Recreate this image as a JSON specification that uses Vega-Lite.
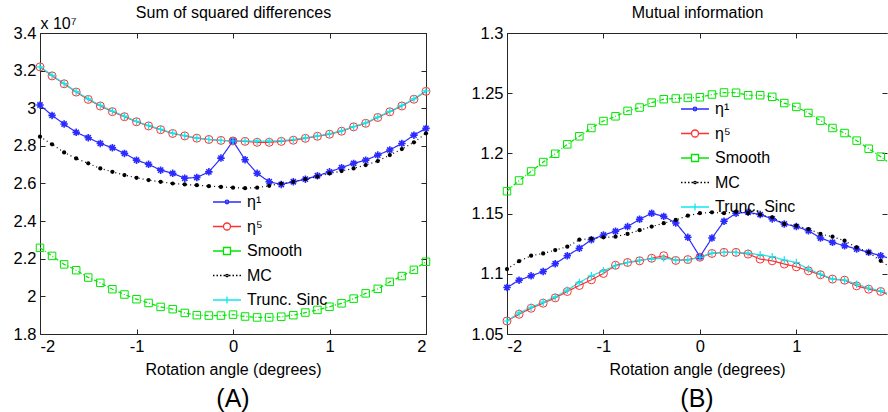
{
"$schema": "https://vega.github.io/schema/vega-lite/v6.json",
"background": "white",
"padding": {"left": 13, "top": 4, "right": 0, "bottom": 0},
"bounds": "flush",
"spacing": 81,
"datasets": {"d": [
{"a":-2,"s":"η¹","ssd":3.017,"mi":1.0886},{"a":-1.875,"s":"η¹","ssd":2.962,"mi":1.0947},{"a":-1.75,"s":"η¹","ssd":2.916,"mi":1.0983},{"a":-1.625,"s":"η¹","ssd":2.872,"mi":1.1019},{"a":-1.5,"s":"η¹","ssd":2.843,"mi":1.1083},{"a":-1.375,"s":"η¹","ssd":2.813,"mi":1.115},{"a":-1.25,"s":"η¹","ssd":2.790,"mi":1.1212},{"a":-1.125,"s":"η¹","ssd":2.760,"mi":1.1283},{"a":-1,"s":"η¹","ssd":2.724,"mi":1.1322},{"a":-0.875,"s":"η¹","ssd":2.702,"mi":1.1353},{"a":-0.75,"s":"η¹","ssd":2.671,"mi":1.1392},{"a":-0.625,"s":"η¹","ssd":2.654,"mi":1.1453},{"a":-0.5,"s":"η¹","ssd":2.628,"mi":1.1503},{"a":-0.375,"s":"η¹","ssd":2.632,"mi":1.1477},{"a":-0.25,"s":"η¹","ssd":2.662,"mi":1.1422},{"a":-0.125,"s":"η¹","ssd":2.735,"mi":1.1303},{"a":0,"s":"η¹","ssd":2.826,"mi":1.1142},{"a":0.125,"s":"η¹","ssd":2.726,"mi":1.1297},{"a":0.25,"s":"η¹","ssd":2.654,"mi":1.1436},{"a":0.375,"s":"η¹","ssd":2.609,"mi":1.1503},{"a":0.5,"s":"η¹","ssd":2.595,"mi":1.1511},{"a":0.625,"s":"η¹","ssd":2.609,"mi":1.1492},{"a":0.75,"s":"η¹","ssd":2.623,"mi":1.1456},{"a":0.875,"s":"η¹","ssd":2.641,"mi":1.1414},{"a":1,"s":"η¹","ssd":2.662,"mi":1.1392},{"a":1.125,"s":"η¹","ssd":2.684,"mi":1.1358},{"a":1.25,"s":"η¹","ssd":2.707,"mi":1.1297},{"a":1.375,"s":"η¹","ssd":2.724,"mi":1.1261},{"a":1.5,"s":"η¹","ssd":2.751,"mi":1.1233},{"a":1.625,"s":"η¹","ssd":2.778,"mi":1.1206},{"a":1.75,"s":"η¹","ssd":2.813,"mi":1.1178},{"a":1.875,"s":"η¹","ssd":2.857,"mi":1.115},{"a":2,"s":"η¹","ssd":2.893,"mi":1.112},
{"a":-2,"s":"η⁵","ssd":3.220,"mi":1.0608},{"a":-1.875,"s":"η⁵","ssd":3.172,"mi":1.0664},{"a":-1.75,"s":"η⁵","ssd":3.130,"mi":1.0714},{"a":-1.625,"s":"η⁵","ssd":3.086,"mi":1.0756},{"a":-1.5,"s":"η⁵","ssd":3.047,"mi":1.0800},{"a":-1.375,"s":"η⁵","ssd":3.012,"mi":1.0853},{"a":-1.25,"s":"η⁵","ssd":2.982,"mi":1.0903},{"a":-1.125,"s":"η⁵","ssd":2.955,"mi":1.0950},{"a":-1,"s":"η⁵","ssd":2.928,"mi":1.1003},{"a":-0.875,"s":"η⁵","ssd":2.906,"mi":1.1071},{"a":-0.75,"s":"η⁵","ssd":2.886,"mi":1.1094},{"a":-0.625,"s":"η⁵","ssd":2.866,"mi":1.1108},{"a":-0.5,"s":"η⁵","ssd":2.853,"mi":1.1129},{"a":-0.375,"s":"η⁵","ssd":2.841,"mi":1.115},{"a":-0.25,"s":"η⁵","ssd":2.834,"mi":1.1111},{"a":-0.125,"s":"η⁵","ssd":2.829,"mi":1.1118},{"a":0,"s":"η⁵","ssd":2.826,"mi":1.1138},{"a":0.125,"s":"η⁵","ssd":2.824,"mi":1.1169},{"a":0.25,"s":"η⁵","ssd":2.819,"mi":1.1178},{"a":0.375,"s":"η⁵","ssd":2.819,"mi":1.1178},{"a":0.5,"s":"η⁵","ssd":2.824,"mi":1.1164},{"a":0.625,"s":"η⁵","ssd":2.830,"mi":1.1122},{"a":0.75,"s":"η⁵","ssd":2.840,"mi":1.1108},{"a":0.875,"s":"η⁵","ssd":2.851,"mi":1.1081},{"a":1,"s":"η⁵","ssd":2.862,"mi":1.1058},{"a":1.125,"s":"η⁵","ssd":2.878,"mi":1.1025},{"a":1.25,"s":"η⁵","ssd":2.901,"mi":1.0992},{"a":1.375,"s":"η⁵","ssd":2.920,"mi":1.0956},{"a":1.5,"s":"η⁵","ssd":2.951,"mi":1.0947},{"a":1.625,"s":"η⁵","ssd":2.981,"mi":1.09},{"a":1.75,"s":"η⁵","ssd":3.012,"mi":1.0872},{"a":1.875,"s":"η⁵","ssd":3.048,"mi":1.0853},{"a":2,"s":"η⁵","ssd":3.090,"mi":1.081},
{"a":-2,"s":"Smooth","ssd":2.258,"mi":1.1686},{"a":-1.875,"s":"Smooth","ssd":2.215,"mi":1.1775},{"a":-1.75,"s":"Smooth","ssd":2.170,"mi":1.185},{"a":-1.625,"s":"Smooth","ssd":2.139,"mi":1.1928},{"a":-1.5,"s":"Smooth","ssd":2.100,"mi":1.1997},{"a":-1.375,"s":"Smooth","ssd":2.072,"mi":1.2075},{"a":-1.25,"s":"Smooth","ssd":2.038,"mi":1.2142},{"a":-1.125,"s":"Smooth","ssd":2.010,"mi":1.2211},{"a":-1,"s":"Smooth","ssd":1.985,"mi":1.2269},{"a":-0.875,"s":"Smooth","ssd":1.965,"mi":1.2308},{"a":-0.75,"s":"Smooth","ssd":1.944,"mi":1.2353},{"a":-0.625,"s":"Smooth","ssd":1.932,"mi":1.2381},{"a":-0.5,"s":"Smooth","ssd":1.912,"mi":1.2422},{"a":-0.375,"s":"Smooth","ssd":1.900,"mi":1.245},{"a":-0.25,"s":"Smooth","ssd":1.898,"mi":1.2456},{"a":-0.125,"s":"Smooth","ssd":1.898,"mi":1.2461},{"a":0,"s":"Smooth","ssd":1.903,"mi":1.2466},{"a":0.125,"s":"Smooth","ssd":1.893,"mi":1.2489},{"a":0.25,"s":"Smooth","ssd":1.888,"mi":1.2506},{"a":0.375,"s":"Smooth","ssd":1.888,"mi":1.2504},{"a":0.5,"s":"Smooth","ssd":1.892,"mi":1.2483},{"a":0.625,"s":"Smooth","ssd":1.900,"mi":1.2483},{"a":0.75,"s":"Smooth","ssd":1.914,"mi":1.247},{"a":0.875,"s":"Smooth","ssd":1.928,"mi":1.2418},{"a":1,"s":"Smooth","ssd":1.945,"mi":1.2386},{"a":1.125,"s":"Smooth","ssd":1.963,"mi":1.2336},{"a":1.25,"s":"Smooth","ssd":1.988,"mi":1.2272},{"a":1.375,"s":"Smooth","ssd":2.016,"mi":1.2211},{"a":1.5,"s":"Smooth","ssd":2.040,"mi":1.2169},{"a":1.625,"s":"Smooth","ssd":2.077,"mi":1.2106},{"a":1.75,"s":"Smooth","ssd":2.108,"mi":1.2039},{"a":1.875,"s":"Smooth","ssd":2.141,"mi":1.1973},{"a":2,"s":"Smooth","ssd":2.184,"mi":1.19},
{"a":-2,"s":"MC","ssd":2.849,"mi":1.1039},{"a":-1.875,"s":"MC","ssd":2.808,"mi":1.1105},{"a":-1.75,"s":"MC","ssd":2.765,"mi":1.115},{"a":-1.625,"s":"MC","ssd":2.733,"mi":1.1169},{"a":-1.5,"s":"MC","ssd":2.707,"mi":1.1197},{"a":-1.375,"s":"MC","ssd":2.680,"mi":1.1225},{"a":-1.25,"s":"MC","ssd":2.662,"mi":1.1283},{"a":-1.125,"s":"MC","ssd":2.645,"mi":1.1292},{"a":-1,"s":"MC","ssd":2.630,"mi":1.1303},{"a":-0.875,"s":"MC","ssd":2.618,"mi":1.1308},{"a":-0.75,"s":"MC","ssd":2.609,"mi":1.1331},{"a":-0.625,"s":"MC","ssd":2.600,"mi":1.1362},{"a":-0.5,"s":"MC","ssd":2.595,"mi":1.1392},{"a":-0.375,"s":"MC","ssd":2.591,"mi":1.142},{"a":-0.25,"s":"MC","ssd":2.586,"mi":1.1447},{"a":-0.125,"s":"MC","ssd":2.582,"mi":1.1483},{"a":0,"s":"MC","ssd":2.578,"mi":1.1503},{"a":0.125,"s":"MC","ssd":2.575,"mi":1.1511},{"a":0.25,"s":"MC","ssd":2.578,"mi":1.1503},{"a":0.375,"s":"MC","ssd":2.588,"mi":1.1515},{"a":0.5,"s":"MC","ssd":2.600,"mi":1.1503},{"a":0.625,"s":"MC","ssd":2.609,"mi":1.1492},{"a":0.75,"s":"MC","ssd":2.623,"mi":1.1469},{"a":0.875,"s":"MC","ssd":2.636,"mi":1.1414},{"a":1,"s":"MC","ssd":2.654,"mi":1.14},{"a":1.125,"s":"MC","ssd":2.666,"mi":1.1372},{"a":1.25,"s":"MC","ssd":2.680,"mi":1.1331},{"a":1.375,"s":"MC","ssd":2.698,"mi":1.1308},{"a":1.5,"s":"MC","ssd":2.719,"mi":1.1275},{"a":1.625,"s":"MC","ssd":2.751,"mi":1.1219},{"a":1.75,"s":"MC","ssd":2.783,"mi":1.1178},{"a":1.875,"s":"MC","ssd":2.819,"mi":1.1108},{"a":2,"s":"MC","ssd":2.867,"mi":1.104},
{"a":-2,"s":"Trunc. Sinc","ssd":3.220,"mi":1.0608},{"a":-1.875,"s":"Trunc. Sinc","ssd":3.175,"mi":1.0675},{"a":-1.75,"s":"Trunc. Sinc","ssd":3.131,"mi":1.0722},{"a":-1.625,"s":"Trunc. Sinc","ssd":3.088,"mi":1.0764},{"a":-1.5,"s":"Trunc. Sinc","ssd":3.050,"mi":1.0808},{"a":-1.375,"s":"Trunc. Sinc","ssd":3.015,"mi":1.0864},{"a":-1.25,"s":"Trunc. Sinc","ssd":2.985,"mi":1.0928},{"a":-1.125,"s":"Trunc. Sinc","ssd":2.958,"mi":1.0983},{"a":-1,"s":"Trunc. Sinc","ssd":2.930,"mi":1.1025},{"a":-0.875,"s":"Trunc. Sinc","ssd":2.908,"mi":1.1067},{"a":-0.75,"s":"Trunc. Sinc","ssd":2.888,"mi":1.1094},{"a":-0.625,"s":"Trunc. Sinc","ssd":2.868,"mi":1.1114},{"a":-0.5,"s":"Trunc. Sinc","ssd":2.854,"mi":1.1122},{"a":-0.375,"s":"Trunc. Sinc","ssd":2.842,"mi":1.1131},{"a":-0.25,"s":"Trunc. Sinc","ssd":2.834,"mi":1.1114},{"a":-0.125,"s":"Trunc. Sinc","ssd":2.829,"mi":1.1114},{"a":0,"s":"Trunc. Sinc","ssd":2.826,"mi":1.1138},{"a":0.125,"s":"Trunc. Sinc","ssd":2.826,"mi":1.1172},{"a":0.25,"s":"Trunc. Sinc","ssd":2.825,"mi":1.1178},{"a":0.375,"s":"Trunc. Sinc","ssd":2.825,"mi":1.1178},{"a":0.5,"s":"Trunc. Sinc","ssd":2.828,"mi":1.1172},{"a":0.625,"s":"Trunc. Sinc","ssd":2.834,"mi":1.1158},{"a":0.75,"s":"Trunc. Sinc","ssd":2.843,"mi":1.1142},{"a":0.875,"s":"Trunc. Sinc","ssd":2.853,"mi":1.1114},{"a":1,"s":"Trunc. Sinc","ssd":2.864,"mi":1.1094},{"a":1.125,"s":"Trunc. Sinc","ssd":2.880,"mi":1.1039},{"a":1.25,"s":"Trunc. Sinc","ssd":2.902,"mi":1.0997},{"a":1.375,"s":"Trunc. Sinc","ssd":2.922,"mi":1.0956},{"a":1.5,"s":"Trunc. Sinc","ssd":2.953,"mi":1.0947},{"a":1.625,"s":"Trunc. Sinc","ssd":2.983,"mi":1.0914},{"a":1.75,"s":"Trunc. Sinc","ssd":3.015,"mi":1.0881},{"a":1.875,"s":"Trunc. Sinc","ssd":3.050,"mi":1.0858},{"a":2,"s":"Trunc. Sinc","ssd":3.092,"mi":1.082}
]},
"resolve": {"scale": {"color": "independent", "shape": "independent", "stroke": "independent", "strokeDash": "independent"}},
"hconcat": [
{
 "data": {"name": "d"},
 "width": 386, "height": 301,
 "title": {"text": "(A)", "orient": "bottom", "fontSize": 25, "fontWeight": "normal", "offset": 9, "color": "#000", "font": "Liberation Sans"},
 "resolve": {"axis": {"x": "independent", "y": "independent"}},
 "layer": [
  {"mark": {"type": "line", "strokeWidth": 1.2},
   "encoding": {
    "x": {"field": "a", "type": "quantitative", "scale": {"domain": [-2, 2], "nice": false, "zero": false},
          "axis": {"orient": "bottom", "values": [-2, -1, 0, 1, 2], "labelExpr": "datum.value + ''", "title": "Rotation angle (degrees)", "titlePadding": 7}},
    "y": {"field": "ssd", "type": "quantitative", "scale": {"domain": [1.8, 3.4], "nice": false, "zero": false},
          "axis": {"orient": "left", "values": [1.8, 2, 2.2, 2.4, 2.6, 2.8, 3, 3.2, 3.4], "format": ".1~f", "title": "x 10⁷", "titleAngle": 0, "titleAlign": "left", "titleBaseline": "alphabetic", "titleX": 0, "titleY": -5, "titleFontSize": 16}},
    "stroke": {"field": "s", "type": "nominal", "scale": {"domain": ["Trunc. Sinc", "MC", "Smooth", "η⁵", "η¹"], "range": ["#10e8ee", "#000000", "#00e600", "#ff3030", "#2b2bff"]}, "legend": null},
    "strokeDash": {"field": "s", "type": "nominal", "scale": {"domain": ["Trunc. Sinc", "MC", "Smooth", "η⁵", "η¹"], "range": [[1, 0], [1, 3], [4, 2, 1, 2], [1, 0], [1, 0]]}, "legend": null}
   }},
  {"transform": [{"filter": "datum.s === 'η¹'"}],
   "mark": {"type": "point", "shape": "M-1,0L1,0M0,-1L0,1M-0.7,-0.7L0.7,0.7M-0.7,0.7L0.7,-0.7", "size": 56, "strokeWidth": 1.6, "filled": false, "opacity": 1, "color": "#2b2bff"},
   "encoding": {"x": {"field": "a", "type": "quantitative", "axis": null}, "y": {"field": "ssd", "type": "quantitative", "axis": null}}},
  {"transform": [{"filter": "datum.s === 'η⁵'"}],
   "mark": {"type": "point", "shape": "circle", "size": 64, "strokeWidth": 1, "filled": false, "opacity": 1, "color": "#ff3030"},
   "encoding": {"x": {"field": "a", "type": "quantitative", "axis": null}, "y": {"field": "ssd", "type": "quantitative", "axis": null}}},
  {"transform": [{"filter": "datum.s === 'Smooth'"}],
   "mark": {"type": "point", "shape": "square", "size": 56, "strokeWidth": 1, "filled": false, "opacity": 1, "color": "#00e600"},
   "encoding": {"x": {"field": "a", "type": "quantitative", "axis": null}, "y": {"field": "ssd", "type": "quantitative", "axis": null}}},
  {"transform": [{"filter": "datum.s === 'MC'"}],
   "mark": {"type": "point", "shape": "circle", "size": 18, "filled": true, "opacity": 1, "color": "#000000"},
   "encoding": {"x": {"field": "a", "type": "quantitative", "axis": null}, "y": {"field": "ssd", "type": "quantitative", "axis": null}}},
  {"transform": [{"filter": "datum.s === 'Trunc. Sinc'"}],
   "mark": {"type": "point", "shape": "M-1,0L1,0M0,-1L0,1", "size": 56, "strokeWidth": 1.2, "filled": false, "opacity": 1, "color": "#10e8ee"},
   "encoding": {"x": {"field": "a", "type": "quantitative", "axis": {"orient": "top", "values": [-2, -1, 0, 1, 2], "labels": false, "title": "Sum of squared differences", "titlePadding": 12}},
                "y": {"field": "ssd", "type": "quantitative", "axis": {"orient": "right", "values": [1.8, 2, 2.2, 2.4, 2.6, 2.8, 3, 3.2, 3.4], "labels": false, "title": null}}}},
  {"transform": [{"filter": "false"}],
   "mark": {"type": "point", "filled": false, "opacity": 1, "size": 400, "strokeWidth": 1.3},
   "encoding": {
    "x": {"field": "a", "type": "quantitative", "axis": null},
    "y": {"field": "ssd", "type": "quantitative", "axis": null},
    "color": {"field": "s", "type": "nominal", "scale": {"domain": ["η¹", "η⁵", "Smooth", "MC", "Trunc. Sinc"], "range": ["#2b2bff", "#ff3030", "#00e600", "#000000", "#10e8ee"]},
              "legend": {"orient": "none", "legendX": 176, "legendY": 158, "title": null, "symbolSize": 400, "symbolStrokeWidth": 1.3, "labelFontSize": 16, "labelFont": "Liberation Sans", "labelColor": "#000", "rowPadding": 5.5, "labelOffset": 9}},
    "shape": {"field": "s", "type": "nominal", "scale": {"domain": ["η¹", "η⁵", "Smooth", "MC", "Trunc. Sinc"], "range": [
      "M-1.4,0L1.4,0M-0.18,0A0.18,0.18 0 1 0 0.18,0A0.18,0.18 0 1 0 -0.18,0",
      "M-1.4,0L-0.35,0M0.35,0L1.4,0M-0.35,0A0.35,0.35 0 1 0 0.35,0A0.35,0.35 0 1 0 -0.35,0",
      "M-1.4,0L-0.35,0M0.35,0L1.4,0M-0.35,-0.35L0.35,-0.35L0.35,0.35L-0.35,0.35Z",
      "M-1.4,0L-1.25,0M-1.05,0L-0.9,0M-0.7,0L-0.55,0M-0.35,0L-0.2,0M0.2,0L0.35,0M0.55,0L0.7,0M0.9,0L1.05,0M1.25,0L1.4,0M-0.12,0A0.12,0.12 0 1 0 0.12,0A0.12,0.12 0 1 0 -0.12,0",
      "M-1.4,0L1.4,0M0,-0.35L0,0.35"]},
              "legend": {"orient": "none", "legendX": 176, "legendY": 158, "title": null, "symbolSize": 400, "symbolStrokeWidth": 1.3, "labelFontSize": 16, "labelFont": "Liberation Sans", "labelColor": "#000", "rowPadding": 5.5, "labelOffset": 9}}
   }}
 ]
},
{
 "data": {"name": "d"},
 "width": 380, "height": 301,
 "title": {"text": "(B)", "orient": "bottom", "fontSize": 25, "fontWeight": "normal", "offset": 9, "color": "#000", "font": "Liberation Sans"},
 "resolve": {"axis": {"x": "independent", "y": "independent"}},
 "layer": [
  {"mark": {"type": "line", "strokeWidth": 1.2, "clip": true},
   "encoding": {
    "x": {"field": "a", "type": "quantitative", "scale": {"domain": [-2, 1.94], "nice": false, "zero": false},
          "axis": {"orient": "bottom", "values": [-2, -1, 0, 1], "labelExpr": "datum.value + ''", "title": "Rotation angle (degrees)", "titlePadding": 7}},
    "y": {"field": "mi", "type": "quantitative", "scale": {"domain": [1.05, 1.3], "nice": false, "zero": false},
          "axis": {"orient": "left", "values": [1.05, 1.1, 1.15, 1.2, 1.25, 1.3], "format": ".2~f", "title": null}},
    "stroke": {"field": "s", "type": "nominal", "scale": {"domain": ["Trunc. Sinc", "MC", "Smooth", "η⁵", "η¹"], "range": ["#10e8ee", "#000000", "#00e600", "#ff3030", "#2b2bff"]}, "legend": null},
    "strokeDash": {"field": "s", "type": "nominal", "scale": {"domain": ["Trunc. Sinc", "MC", "Smooth", "η⁵", "η¹"], "range": [[1, 0], [1, 3], [4, 2, 1, 2], [1, 0], [1, 0]]}, "legend": null}
   }},
  {"transform": [{"filter": "datum.s === 'η¹' && datum.a < 1.95"}],
   "mark": {"type": "point", "shape": "M-1,0L1,0M0,-1L0,1M-0.7,-0.7L0.7,0.7M-0.7,0.7L0.7,-0.7", "size": 56, "strokeWidth": 1.6, "filled": false, "opacity": 1, "color": "#2b2bff"},
   "encoding": {"x": {"field": "a", "type": "quantitative", "axis": null}, "y": {"field": "mi", "type": "quantitative", "axis": null}}},
  {"transform": [{"filter": "datum.s === 'η⁵' && datum.a < 1.95"}],
   "mark": {"type": "point", "shape": "circle", "size": 64, "strokeWidth": 1, "filled": false, "opacity": 1, "color": "#ff3030"},
   "encoding": {"x": {"field": "a", "type": "quantitative", "axis": null}, "y": {"field": "mi", "type": "quantitative", "axis": null}}},
  {"transform": [{"filter": "datum.s === 'Smooth' && datum.a < 1.95"}],
   "mark": {"type": "point", "shape": "square", "size": 56, "strokeWidth": 1, "filled": false, "opacity": 1, "color": "#00e600"},
   "encoding": {"x": {"field": "a", "type": "quantitative", "axis": null}, "y": {"field": "mi", "type": "quantitative", "axis": null}}},
  {"transform": [{"filter": "datum.s === 'MC' && datum.a < 1.95"}],
   "mark": {"type": "point", "shape": "circle", "size": 18, "filled": true, "opacity": 1, "color": "#000000"},
   "encoding": {"x": {"field": "a", "type": "quantitative", "axis": null}, "y": {"field": "mi", "type": "quantitative", "axis": null}}},
  {"transform": [{"filter": "datum.s === 'Trunc. Sinc' && datum.a < 1.95"}],
   "mark": {"type": "point", "shape": "M-1,0L1,0M0,-1L0,1", "size": 56, "strokeWidth": 1.2, "filled": false, "opacity": 1, "color": "#10e8ee"},
   "encoding": {"x": {"field": "a", "type": "quantitative", "axis": {"orient": "top", "values": [-2, -1, 0, 1], "labels": false, "title": "Mutual information", "titlePadding": 12}},
                "y": {"field": "mi", "type": "quantitative", "axis": {"orient": "right", "values": [1.05, 1.1, 1.15, 1.2, 1.25, 1.3], "labels": false, "title": null, "domain": false}}}},
  {"transform": [{"filter": "false"}],
   "mark": {"type": "point", "filled": false, "opacity": 1, "size": 400, "strokeWidth": 1.3},
   "encoding": {
    "x": {"field": "a", "type": "quantitative", "axis": null},
    "y": {"field": "mi", "type": "quantitative", "axis": null},
    "color": {"field": "s", "type": "nominal", "scale": {"domain": ["η¹", "η⁵", "Smooth", "MC", "Trunc. Sinc"], "range": ["#2b2bff", "#ff3030", "#00e600", "#000000", "#10e8ee"]},
              "legend": {"orient": "none", "legendX": 177, "legendY": 65, "title": null, "symbolSize": 400, "symbolStrokeWidth": 1.3, "labelFontSize": 16, "labelFont": "Liberation Sans", "labelColor": "#000", "rowPadding": 5.5, "labelOffset": 9}},
    "shape": {"field": "s", "type": "nominal", "scale": {"domain": ["η¹", "η⁵", "Smooth", "MC", "Trunc. Sinc"], "range": [
      "M-1.4,0L1.4,0M-0.18,0A0.18,0.18 0 1 0 0.18,0A0.18,0.18 0 1 0 -0.18,0",
      "M-1.4,0L-0.35,0M0.35,0L1.4,0M-0.35,0A0.35,0.35 0 1 0 0.35,0A0.35,0.35 0 1 0 -0.35,0",
      "M-1.4,0L-0.35,0M0.35,0L1.4,0M-0.35,-0.35L0.35,-0.35L0.35,0.35L-0.35,0.35Z",
      "M-1.4,0L-1.25,0M-1.05,0L-0.9,0M-0.7,0L-0.55,0M-0.35,0L-0.2,0M0.2,0L0.35,0M0.55,0L0.7,0M0.9,0L1.05,0M1.25,0L1.4,0M-0.12,0A0.12,0.12 0 1 0 0.12,0A0.12,0.12 0 1 0 -0.12,0",
      "M-1.4,0L1.4,0M0,-0.35L0,0.35"]},
              "legend": {"orient": "none", "legendX": 177, "legendY": 65, "title": null, "symbolSize": 400, "symbolStrokeWidth": 1.3, "labelFontSize": 16, "labelFont": "Liberation Sans", "labelColor": "#000", "rowPadding": 5.5, "labelOffset": 9}}
   }}
 ]
}
],
"config": {
 "font": "Liberation Sans",
 "view": {"stroke": null},
 "axis": {"grid": false, "tickSize": -5, "labelPadding": 9, "domainColor": "#262626", "tickColor": "#262626", "labelColor": "#000", "labelFont": "Liberation Sans", "labelFontSize": 16.5, "titleFont": "Liberation Sans", "titleFontSize": 16, "titleFontWeight": "normal", "titleColor": "#000", "labelOverlap": false}
}
}
